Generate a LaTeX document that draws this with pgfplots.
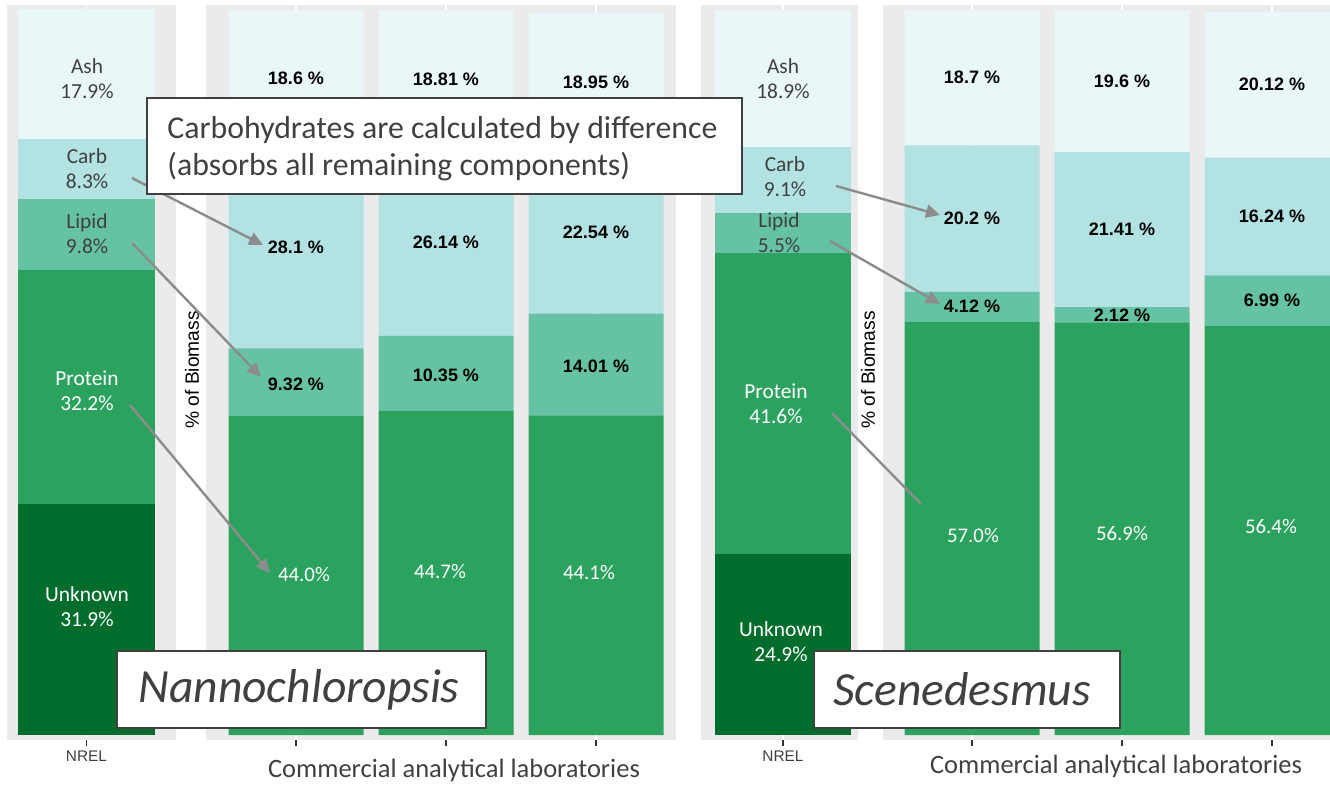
\documentclass[border=0pt]{standalone}
\usepackage{pgfplots}
\pgfplotsset{compat=1.18}
\usetikzlibrary{arrows.meta}
\usepackage{fontspec}
\setmainfont{Carlito}
\newfontfamily\arial{Liberation Sans}
\definecolor{panelgray}{HTML}{EBEBEB}
\definecolor{cAsh}{HTML}{EAF7F9}
\definecolor{cCarb}{HTML}{B2E2E2}
\definecolor{cLip}{HTML}{66C2A4}
\definecolor{cProt}{HTML}{2CA25F}
\definecolor{cUnk}{HTML}{006D2C}
\definecolor{txtgray}{HTML}{404040}
\definecolor{arrowgray}{HTML}{8C8C8C}
\definecolor{tickgray}{HTML}{333333}
\pgfplotsset{
  panel/.style={
    scale only axis, anchor=south west,
    height=367.5pt,
    ymin=-0.69, ymax=100.69,
    ybar stacked,
    axis background/.style={fill=panelgray},
    axis line style={draw=none},
    ytick=\empty,
    xtick pos=left,
    tick align=outside,
    major tick length=3pt,
    xtick style={tickgray, line width=0.6pt},
    xmajorgrids,
    major grid style={white, line width=0.6pt},
    xticklabel style={font=\arial\fontsize{7.7}{8}\selectfont, text=txtgray, yshift=1pt},
    every axis plot/.append style={draw=none},
    clip=false,
  },
}
\begin{document}
\begin{tikzpicture}
\path[use as bounding box] (0,0) rectangle (665pt,392pt);
\clip (0,0) rectangle (665pt,392pt);
% ---------- Nannochloropsis, NREL
\begin{axis}[panel, at={(3.5pt,22pt)}, width=84.5pt, xmin=7, xmax=176, bar width=137,
  xtick={86.5}, xticklabels={NREL}]
\addplot[fill=cUnk, draw=none] coordinates {(86.5,31.9)};
\addplot[fill=cProt, draw=none] coordinates {(86.5,32.2)};
\addplot[fill=cLip, draw=none] coordinates {(86.5,9.8)};
\addplot[fill=cCarb, draw=none] coordinates {(86.5,8.3)};
\addplot[fill=cAsh, draw=none] coordinates {(86.5,17.9)};
\end{axis}
% ---------- Nannochloropsis, commercial
\begin{axis}[panel, at={(103pt,22pt)}, width=235pt, xmin=206, xmax=676, bar width=135,
  xtick={296,446,596}, xticklabels={}]
\addplot[fill=cProt, draw=none] coordinates {(296,44.0) (446,44.7) (596,44.1)};
\addplot[fill=cLip, draw=none] coordinates {(296,9.32) (446,10.35) (596,14.01)};
\addplot[fill=cCarb, draw=none] coordinates {(296,28.1) (446,26.14) (596,22.54)};
\addplot[fill=cAsh, draw=none] coordinates {(296,18.6) (446,18.81) (596,18.95)};
\end{axis}
% ---------- Scenedesmus, NREL
\begin{axis}[panel, at={(350.5pt,22pt)}, width=78.5pt, xmin=701, xmax=858, bar width=136,
  xtick={783}, xticklabels={NREL}]
\addplot[fill=cUnk, draw=none] coordinates {(783,24.9)};
\addplot[fill=cProt, draw=none] coordinates {(783,41.6)};
\addplot[fill=cLip, draw=none] coordinates {(783,5.5)};
\addplot[fill=cCarb, draw=none] coordinates {(783,9.1)};
\addplot[fill=cAsh, draw=none] coordinates {(783,18.9)};
\end{axis}
% ---------- Scenedesmus, commercial
\begin{axis}[panel, at={(441.5pt,22pt)}, width=239.5pt, xmin=883, xmax=1362, bar width=135,
  xtick={972,1122,1272}, xticklabels={}]
\addplot[fill=cProt, draw=none] coordinates {(972,57.0) (1122,56.9) (1272,56.4)};
\addplot[fill=cLip, draw=none] coordinates {(972,4.12) (1122,2.12) (1272,6.99)};
\addplot[fill=cCarb, draw=none] coordinates {(972,20.2) (1122,21.41) (1272,16.24)};
\addplot[fill=cAsh, draw=none] coordinates {(972,18.7) (1122,19.6) (1272,20.12)};
\end{axis}

\begin{scope}[x=0.5pt,y=0.5pt]
\tikzset{
  nrel/.style={align=center, font=\fontsize{10.7}{12.5}\selectfont, text=txtgray, inner sep=0},
  nrelw/.style={nrel, text=white},
  bl/.style={font=\arial\bfseries\fontsize{9}{10}\selectfont, text=black, inner sep=0},
  wl/.style={font=\fontsize{10.4}{12}\selectfont, text=white, inner sep=0},
  arr/.style={arrowgray, line width=1.2pt, -{Triangle[length=7pt,width=6.5pt]}},
}
% NREL labels, left
\node[nrel] at (87,705) {Ash\\17.9\%};
\node[nrel] at (87,615) {Carb\\8.3\%};
\node[nrel] at (87,550.5) {Lipid\\9.8\%};
\node[nrelw] at (87,393) {Protein\\32.2\%};
\node[nrelw] at (87,177) {Unknown\\31.9\%};
% NREL labels, right
\node[nrel] at (783,705.5) {Ash\\18.9\%};
\node[nrel] at (785,607) {Carb\\9.1\%};
\node[nrel] at (779,551) {Lipid\\5.5\%};
\node[nrelw] at (776,380) {Protein\\41.6\%};
\node[nrelw] at (781,142.5) {Unknown\\24.9\%};
% commercial labels, left
\node[bl] at (296,706) {18.6 \%};
\node[bl] at (446,705) {18.81 \%};
\node[bl] at (596,702) {18.95 \%};
\node[bl] at (296,537) {28.1 \%};
\node[bl] at (446,542) {26.14 \%};
\node[bl] at (596,552) {22.54 \%};
\node[bl] at (296,400) {9.32 \%};
\node[bl] at (446,409) {10.35 \%};
\node[bl] at (596,418) {14.01 \%};
\node[wl] at (304,210) {44.0\%};
\node[wl] at (440,213) {44.7\%};
\node[wl] at (589,212) {44.1\%};
% commercial labels, right
\node[bl] at (972,707) {18.7 \%};
\node[bl] at (1122,703) {19.6 \%};
\node[bl] at (1272,700) {20.12 \%};
\node[bl] at (972,566) {20.2 \%};
\node[bl] at (1122,555) {21.41 \%};
\node[bl] at (1272,568) {16.24 \%};
\node[bl] at (972,478) {4.12 \%};
\node[bl] at (1122,469) {2.12 \%};
\node[bl] at (1272,484) {6.99 \%};
\node[wl] at (973,249) {57.0\%};
\node[wl] at (1122,251) {56.9\%};
\node[wl] at (1271,258) {56.4\%};
% y axis titles
\node[rotate=90, font=\arial\fontsize{9.6}{10}\selectfont, text=black, inner sep=0] at (192,414) {\% of Biomass};
\node[rotate=90, font=\arial\fontsize{9.6}{10}\selectfont, text=black, inner sep=0] at (868,414) {\% of Biomass};
% x titles
\node[font=\fontsize{13.25}{15}\selectfont, text=txtgray, inner sep=0] at (454,14) {Commercial analytical laboratories};
\node[font=\fontsize{13.25}{15}\selectfont, text=txtgray, inner sep=0] at (1116,18) {Commercial analytical laboratories};
% arrows
\draw[arr] (132,606) -- (263,539);
\draw[arr] (132,541) -- (261,407);
\draw[arr] (130,379) -- (270,211);
\draw[arr] (836,598) -- (940,569);
\draw[arr] (830,543) -- (940,480);
\draw[arrowgray, line width=1.2pt] (832,371) -- (921,280);
% annotation boxes
\draw[txtgray, line width=1pt, fill=white] (147,686) rectangle (742,590);
\node[anchor=west, align=left, font=\fontsize{15.9}{18.5}\selectfont, text=txtgray, inner sep=0] at (167,635.5)
  {Carbohydrates are calculated by difference\\(absorbs all remaining components)};
\draw[txtgray, line width=1pt, fill=white] (117,133) rectangle (486,56);
\node[font=\itshape\fontsize{23.8}{28}\selectfont, text=txtgray, inner sep=0] at (299,94.5) {Nannochloropsis};
\draw[txtgray, line width=1pt, fill=white] (814,133) rectangle (1120,56);
\node[font=\itshape\fontsize{23.8}{28}\selectfont, text=txtgray, inner sep=0] at (962,94.5) {Scenedesmus};
\end{scope}
\end{tikzpicture}
\end{document}
